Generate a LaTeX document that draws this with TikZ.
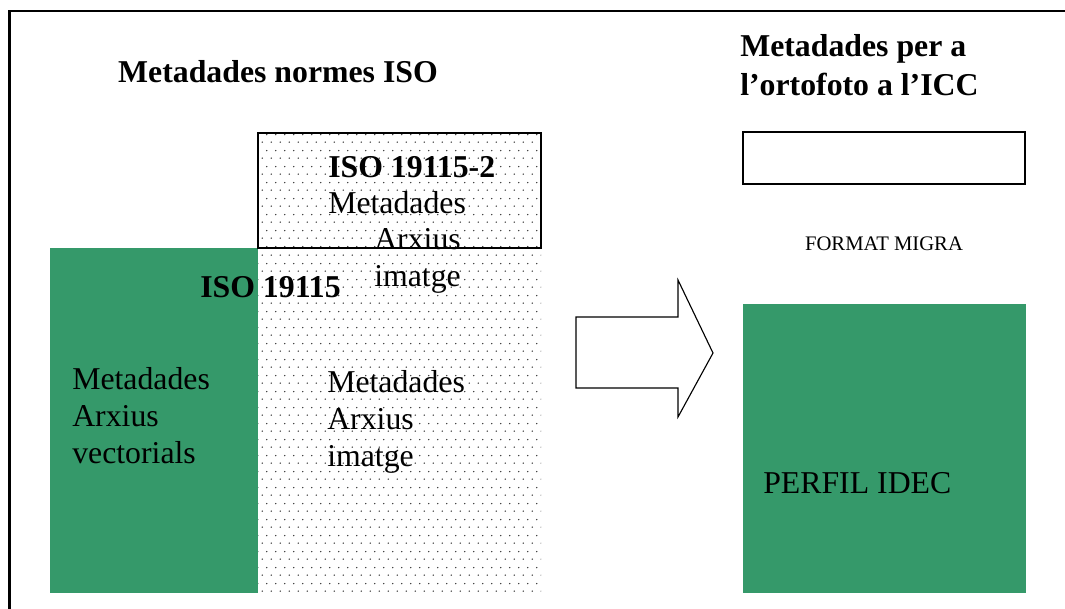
\documentclass[tikz,border=0pt]{standalone}
\usepackage{fontspec}
\setmainfont{Liberation Serif}
\usetikzlibrary{positioning,patterns.meta}
\definecolor{idecgreen}{RGB}{53,153,106}
\tikzdeclarepattern{
  name=sparsedots, type=uncolored,
  bounding box={(0,0) and (6.4pt,11.4pt)},
  tile size={(6.4pt,11.4pt)},
  code={
    \fill (1.6pt,1.4pt) circle (0.55pt);
    \fill (4.8pt,7.1pt) circle (0.55pt);
  }
}
\tikzset{
  txt/.style={inner sep=0, font=\fontsize{22.6}{26}\selectfont, align=left},
  bold/.style={inner sep=0, font=\fontsize{22.6}{27.5}\selectfont\bfseries, align=left},
  small/.style={inner sep=0, font=\fontsize{14.7}{17}\selectfont},
  block/.style={anchor=north west, outer sep=0, inner sep=0},
  greenbox/.style={block, fill=idecgreen},
  dotbox/.style={block, pattern=sparsedots, pattern color=black!80},
}

\begin{document}
\begin{tikzpicture}[x=0.025cm,y=-0.025cm]
  \useasboundingbox (0,0) rectangle (1065,608);
  % frame
  \draw[line width=2pt] (9.5,610) -- (9.5,11) -- (1067,11);

  % titles
  \node[bold, anchor=base] (title_iso) at (278,82) {Metadades normes ISO};
  \node[bold, anchor=base west] (title_icc) at (740,95) {Metadades per a\\l’ortofoto a l’ICC};

  % ISO norms
  \node[greenbox, minimum width=5.2cm, minimum height=8.625cm] (iso) at (50,248) {};
  \node[dotbox, minimum width=7.075cm, minimum height=8.625cm] (iso_img) at (258,248) {};
  \node[dotbox, draw, line width=1pt, minimum width=7.075cm, minimum height=2.875cm] (iso2) at (258,133) {};

  \node[bold, anchor=base west] (iso2_lbl) at (328,177) {ISO 19115-2};
  \node[txt, anchor=base west] (iso2_meta) at (328,213) {Metadades};
  \node[txt, anchor=base west] (iso2_arx) at (374,286) {Arxius\\imatge};
  \node[bold, anchor=base west] (iso_lbl) at (200,297) {ISO 19115};
  \node[txt, anchor=base west] (vec) at (72,463) {Metadades\\Arxius\\vectorials};
  \node[txt, anchor=base west] (img) at (327,466) {Metadades\\Arxius\\imatge};

  % arrow
  \draw[line width=0.8pt, line join=miter]
    (576,317) -- (678,317) -- (678,280) -- (713,353) -- (678,417) -- (678,388) -- (576,388) -- cycle;

  % ICC profile
  \node[block, draw, line width=1.2pt, minimum width=7.05cm, minimum height=1.3cm] (migra_box) at (743,132) {};
  \node[small, anchor=base] (migra) at (884,250) {FORMAT MIGRA};
  \node[greenbox, minimum width=7.075cm, minimum height=7.225cm] (idec) at (743,304) {};
  \node[txt, anchor=base west] (perfil) at (763,493) {PERFIL IDEC};
\end{tikzpicture}
\end{document}
